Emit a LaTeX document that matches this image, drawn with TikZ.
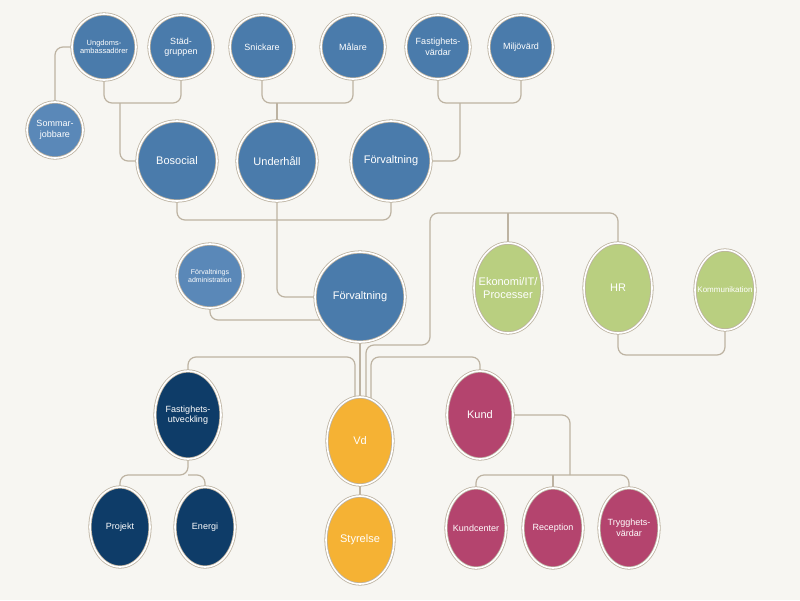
\documentclass[tikz,border=0pt]{standalone}
\usepackage{fontspec}
\setmainfont{Liberation Sans}
\usetikzlibrary{shapes.geometric,backgrounds}
\definecolor{bg}{HTML}{F7F6F2}
\definecolor{ln}{HTML}{BDB3A2}
\definecolor{cb}{HTML}{4A7BAB}
\definecolor{cl}{HTML}{5A88B8}
\definecolor{cn}{HTML}{0E3C68}
\definecolor{cy}{HTML}{F5B234}
\definecolor{cm}{HTML}{B4446E}
\definecolor{cg}{HTML}{B9CF80}
\tikzset{
 c/.style n args={3}{ellipse,inner sep=-8pt,minimum width=#1,minimum height=#2,fill=#3,draw=ln,double=white,double distance=1.6pt,line width=0.8pt,text=white,align=center},
 s/.style={font=\fontsize{7.5}{8}\selectfont},
 m/.style={font=\fontsize{9}{10.5}\selectfont},
 b/.style={font=\fontsize{11}{12.5}\selectfont},
 e/.style={draw=ln,line width=1.2pt,rounded corners=8pt}
}
\begin{document}
\begin{tikzpicture}[x=1pt,y=-1pt]
\useasboundingbox (0,0) rectangle (800,600);
% nodes
\node[c={64}{66}{cb},s] (ung) at (104,47) {Ungdoms-\\ambassadörer};
\node[c={64}{64}{cb},m] (sta) at (181,47) {Städ-\\gruppen};
\node[c={64}{64}{cb},m] (sni) at (262,47) {Snickare};
\node[c={64}{64}{cb},m] (mal) at (353,47) {Målare};
\node[c={64}{64}{cb},m] (fas) at (438,47) {Fastighets-\\värdar};
\node[c={64}{64}{cb},m] (mil) at (521,47) {Miljövärd};
\node[c={56}{56}{cl},m] (som) at (55,130) {Sommar-\\jobbare};
\node[c={80}{80}{cb},b] (bos) at (177,161) {Bosocial};
\node[c={80}{80}{cb},b] (und) at (277,161) {Underhåll};
\node[c={80}{80}{cb},b] (fo1) at (391,161) {Förvaltning};
\node[c={66}{64}{cl},font=\fontsize{7}{8}\selectfont] (adm) at (210,276) {Förvaltnings\\administration};
\node[c={90}{90}{cb},b] (fo2) at (360,297) {Förvaltning};
\node[c={68}{90}{cg},b] (eko) at (508,288) {Ekonomi/IT/\\Processer};
\node[c={68}{90}{cg},b] (hr) at (618,288) {HR};
\node[c={60}{80}{cg},font=\fontsize{8}{9}\selectfont] (kom) at (725,290) {Kommunikation};
\node[c={66}{88}{cn},m] (fu) at (188,415) {Fastighets-\\utveckling};
\node[c={66}{88}{cy},b] (vd) at (360,441) {Vd};
\node[c={66}{88}{cm},b] (kun) at (480,415) {Kund};
\node[c={60}{80}{cn},m] (pro) at (120,527) {Projekt};
\node[c={60}{80}{cn},m] (ene) at (205,527) {Energi};
\node[c={68}{88}{cy},b] (sty) at (360,540) {Styrelse};
\node[c={60}{80}{cm},m] (kc) at (476,528) {Kundcenter};
\node[c={60}{80}{cm},m] (rec) at (553,528) {Reception};
\node[c={60}{80}{cm},m] (try) at (629,528) {Trygghets-\\värdar};
% connectors
\begin{scope}[on background layer]
\fill[bg] (0,0) rectangle (800,600);
\draw[e] (ung.south) |- (143,103) -| (sta.south);
\draw[e] (120,103) |- (bos.west);
\draw[e] (som.north) |- (ung.west);
\draw[e] (sni.south) |- (300,103) -| (mal.south);
\draw[e] (und.north) -- (277,103);
\draw[e] (fas.south) |- (480,103) -| (mil.south);
\draw[e] (fo1.east) -| (460,103);
\draw[e] (bos.south) |- (280,220) -| (fo1.south);
\draw[e] (und.south) |- (fo2.west);
\draw[e] (adm.south) |- (330,320);
\draw[e] (fo2.south) -- (vd.north);
\draw[e] (fu.north) |- (300,357) -| (355,420);
\draw[e] (366,420) |- (430,345) |- (520,213) -| (hr.north);
\draw[e] (eko.north) -- (508,213);
\draw[e] (371,420) |- (430,357) -| (kun.north);
\draw[e] (hr.south) |- (670,355) -| (kom.south);
\draw[e] (fu.south) |- (160,475) -| (pro.north);
\draw[e] (188,475) -| (ene.north);
\draw[e] (vd.south) -- (sty.north);
\draw[e] (kun.east) -| (570,475);
\draw[e] (kc.north) |- (550,475) -| (try.north);
\draw[e] (553,475) -- (rec.north);
\end{scope}
\end{tikzpicture}
\end{document}
